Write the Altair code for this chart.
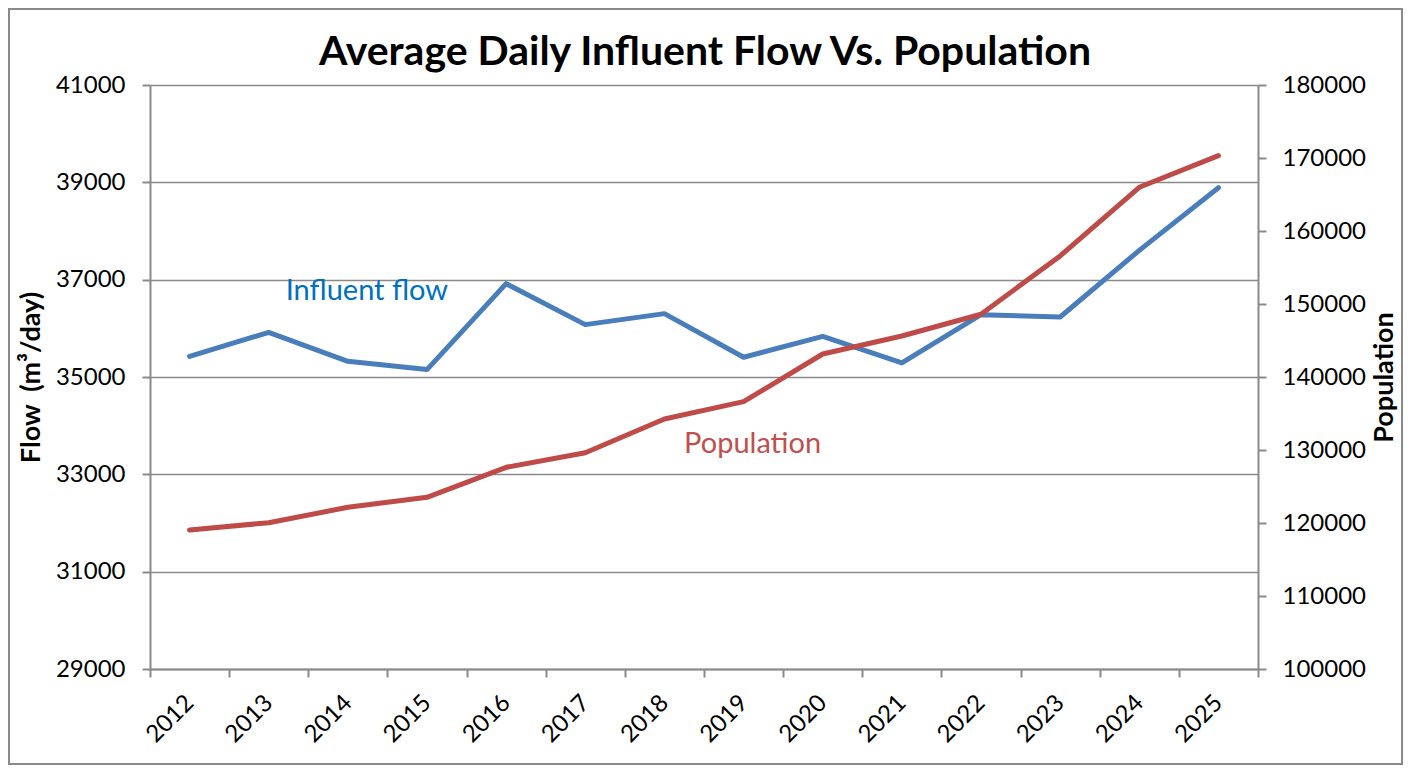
import altair as alt
import pandas as pd

title_text = ["Average Daily Influent Flow Vs. Population"]
years = [str(y) for y in range(2012, 2026)]
flow = [35425, 35918, 35323, 35152, 36918, 36076, 36302, 35405, 35836, 35288, 36281, 36233, 37602, 38890]
population = [119040, 120040, 122150, 123520, 127630, 129630, 134250, 136620, 143150, 145620, 148600, 156580, 165990, 170320]

ann_labels = ["Influent flow", "Population"]
ann_years = ["2013", "2019"]
ann_flow = [36770, 33630]
ann_colors = ["#0070C0", "#C0504D"]

df = pd.DataFrame({"year": years, "flow": flow, "population": population})
ann = pd.DataFrame({"label": ann_labels, "year": ann_years, "flow": ann_flow, "color": ann_colors})
tdf = pd.DataFrame({"t": title_text})

FONT = "Lato"
GRID = "#8a8a8a"

xenc = alt.X(
    "year:O",
    title=None,
    bandPosition=0.5,
    scale=alt.Scale(type="band", paddingInner=0, paddingOuter=0),
    axis=alt.Axis(
        tickBand="extent", labelAngle=-45, labelAlign="right", labelBaseline="middle",
        labelPadding=22, tickSize=8, grid=False,
    ),
)

base = alt.Chart(df)

flow_line = base.mark_line(color="#4A7EBB", strokeWidth=5, strokeCap="round", strokeJoin="round").encode(
    x=xenc,
    y=alt.Y(
        "flow:Q",
        scale=alt.Scale(domain=[29000, 41000], nice=False, zero=False),
        axis=alt.Axis(
            values=list(range(29000, 41001, 2000)), format="d", grid=True, orient="left",
            title="Flow\u00a0 (m³/day)", tickSize=8, labelPadding=17, titlePadding=10,
        ),
    ),
)

pop_line = base.mark_line(color="#BE4B48", strokeWidth=5, strokeCap="round", strokeJoin="round").encode(
    x=xenc,
    y=alt.Y(
        "population:Q",
        scale=alt.Scale(domain=[100000, 180000], nice=False, zero=False),
        axis=alt.Axis(
            values=list(range(100000, 180001, 10000)), format="d", grid=False, orient="right",
            title="Population", tickSize=8, labelPadding=16, titlePadding=6,
            titleAngle=270, titleBaseline="top",
        ),
    ),
)

text1 = alt.Chart(ann.iloc[[0]]).mark_text(
    font=FONT, fontSize=29, align="left", baseline="middle", dx=17
).encode(
    x=xenc,
    y=alt.Y("flow:Q", scale=alt.Scale(domain=[29000, 41000], nice=False, zero=False), axis=None),
    text="label:N",
    color=alt.Color("color:N", scale=None),
)

text2 = alt.Chart(ann.iloc[[1]]).mark_text(
    font=FONT, fontSize=29, align="center", baseline="middle", dx=9
).encode(
    x=xenc,
    y=alt.Y("flow:Q", scale=alt.Scale(domain=[29000, 41000], nice=False, zero=False), axis=None),
    text="label:N",
    color=alt.Color("color:N", scale=None),
)

title_mark = alt.Chart(tdf).mark_text(
    font=FONT, fontSize=41, fontWeight="bold", align="center", baseline="middle", color="black"
).encode(
    x=alt.value(555), y=alt.value(-32), text="t:N"
)

border = alt.Chart(df).mark_rect(filled=False, stroke="#8a8a8a", strokeWidth=2).encode(
    x=alt.value(-141), x2=alt.value(1252), y=alt.value(-76), y2=alt.value(679)
)

chart = alt.layer(flow_line, pop_line, text1, text2, title_mark, border).resolve_scale(
    y="independent"
).properties(
    width=1108,
    height=584,
    autosize=alt.AutoSizeParams(type="none"),
    padding={"left": 142, "top": 77, "right": 145, "bottom": 96},
).configure_view(strokeWidth=0).configure_axis(
    labelFont=FONT, labelFontSize=24, labelColor="black",
    titleFont=FONT, titleFontSize=27, titleFontWeight="bold", titleColor="black",
    domainColor=GRID, domainWidth=2, tickColor=GRID, tickWidth=2,
    gridColor=GRID, gridWidth=1.5,
)

chart.save("out.html", embed_options={"renderer": "svg", "actions": False})
